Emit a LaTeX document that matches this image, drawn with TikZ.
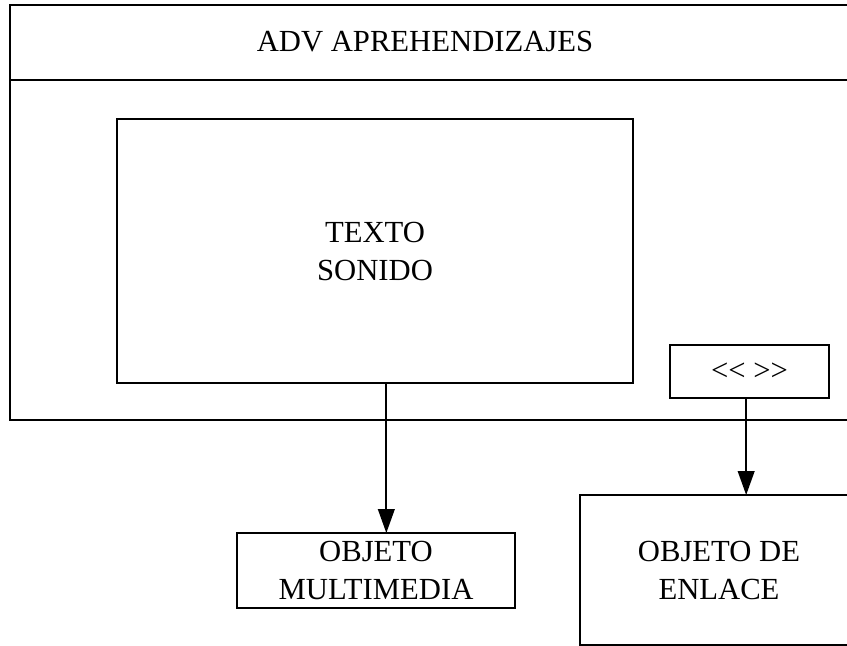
\documentclass[tikz,border=0pt]{standalone}
\usepackage{fontspec}
\setmainfont{Liberation Serif}
\usepackage{tikz}
\usetikzlibrary{arrows.meta,positioning}

\begin{document}
\begin{tikzpicture}[
  x=0.75pt, y=-0.75pt,
  panel/.style={draw, line width=1.5pt, inner sep=0pt, outer sep=0pt},
  item/.style={draw, line width=1.5pt, inner sep=0pt, outer sep=0pt, align=center, font=\fontsize{23}{28.5}\selectfont},
  txt/.style={inner sep=0pt, font=\fontsize{23}{28.5}\selectfont},
  arr/.style={draw, line width=1.5pt, -{Triangle[length=18pt, width=12.5pt]}}
]
\clip (0,0) rectangle (847,646);
% pantalla
\node [panel, minimum width=637.5pt, minimum height=56.25pt, anchor=north west] (head) at (10,5) {};
\node [panel, minimum width=637.5pt, minimum height=255pt, anchor=north west] (body) at (10,80) {};
\node [txt] (title) at (425,42) {ADV APREHENDIZAJES};
\node [item, minimum width=387pt, minimum height=198pt] (texto) at (375,251) {TEXTO\\SONIDO};
\node [item, minimum width=119.25pt, minimum height=39.75pt] (link) at (749.5,371.5) {{<}{<}\ {>}{>}};
% objetos
\node [item, minimum width=208.5pt, minimum height=56.25pt] (multi) at (376,570.5) {OBJETO\\MULTIMEDIA};
\node [item, minimum width=208.5pt, minimum height=112.5pt] (enlace) at (719,570) {OBJETO DE\\ENLACE};
\draw [arr] ([xshift=8.5pt]texto.south) -- ([xshift=8.5pt]texto.south |- multi.north);
\draw [arr] ([xshift=-2.5pt]link.south) -- ([xshift=-2.5pt]link.south |- enlace.north);
\end{tikzpicture}
\end{document}
